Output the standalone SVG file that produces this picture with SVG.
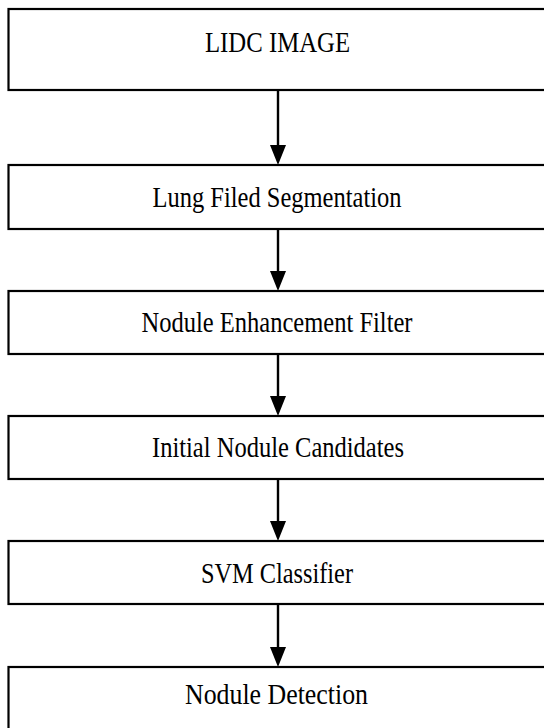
<svg xmlns="http://www.w3.org/2000/svg" width="544" height="728" viewBox="0 0 544 728">
<style>
.box{fill:#fff;stroke:#000;stroke-width:2.2}
.lbl{font-family:"Liberation Serif","Times New Roman",serif;font-size:29px;fill:#000;text-anchor:middle}
.conn line{stroke:#000;stroke-width:2.4}
.conn polygon{fill:#000}
</style>
<rect width="544" height="728" fill="#fff"/>
<g id="n1"><rect class="box" x="8.5" y="9" width="540" height="81"/><text class="lbl" x="277.5" y="52" textLength="145" lengthAdjust="spacingAndGlyphs">LIDC IMAGE</text></g>
<g id="n2"><rect class="box" x="8.5" y="165" width="540" height="64"/><text class="lbl" x="277" y="207" textLength="249" lengthAdjust="spacingAndGlyphs">Lung Filed Segmentation</text></g>
<g id="n3"><rect class="box" x="8.5" y="291" width="540" height="63"/><text class="lbl" x="277" y="332" textLength="271" lengthAdjust="spacingAndGlyphs">Nodule Enhancement Filter</text></g>
<g id="n4"><rect class="box" x="8.5" y="416" width="540" height="63"/><text class="lbl" x="278" y="457" textLength="252" lengthAdjust="spacingAndGlyphs">Initial Nodule Candidates</text></g>
<g id="n5"><rect class="box" x="8.5" y="541" width="540" height="63"/><text class="lbl" x="277" y="583" textLength="152" lengthAdjust="spacingAndGlyphs">SVM Classifier</text></g>
<g id="n6"><rect class="box" x="8.5" y="667" width="540" height="80"/><text class="lbl" x="276.5" y="704" textLength="183" lengthAdjust="spacingAndGlyphs">Nodule Detection</text></g>
<g id="connectors" class="conn">
<line x1="278" y1="90" x2="278" y2="146"/><polygon points="270,145 286,145 278,165"/>
<line x1="278" y1="229" x2="278" y2="272"/><polygon points="270,271 286,271 278,291"/>
<line x1="278" y1="354" x2="278" y2="397"/><polygon points="270,396 286,396 278,416"/>
<line x1="278" y1="479" x2="278" y2="522"/><polygon points="270,521 286,521 278,541"/>
<line x1="278" y1="604" x2="278" y2="648"/><polygon points="270,647 286,647 278,667"/>
</g>
</svg>
